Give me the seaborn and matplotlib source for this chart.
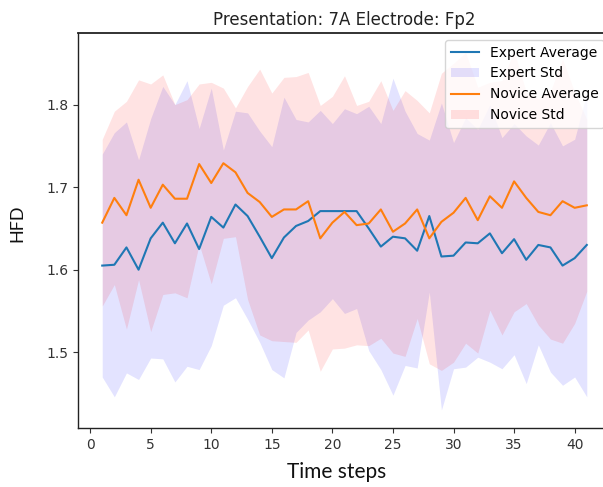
import matplotlib
matplotlib.use("Agg")
import matplotlib.pyplot as plt
import seaborn as sns
import numpy as np
import pandas as pd

time_steps = list(range(1, 42))

expert_avg = [1.605, 1.606, 1.627, 1.600, 1.638, 1.657, 1.632, 1.656, 1.625, 1.664,
              1.651, 1.679, 1.665, 1.640, 1.614, 1.639, 1.653, 1.659, 1.671, 1.671,
              1.671, 1.671, 1.650, 1.628, 1.640, 1.638, 1.623, 1.665, 1.616, 1.617,
              1.633, 1.632, 1.644, 1.620, 1.637, 1.612, 1.630, 1.627, 1.605, 1.614, 1.630]
expert_std = [0.135, 0.160, 0.152, 0.133, 0.145, 0.165, 0.168, 0.173, 0.146, 0.156,
              0.094, 0.113, 0.125, 0.128, 0.135, 0.170, 0.129, 0.120, 0.122, 0.106,
              0.124, 0.118, 0.148, 0.149, 0.192, 0.154, 0.142, 0.092, 0.186, 0.137,
              0.151, 0.138, 0.156, 0.140, 0.140, 0.150, 0.121, 0.151, 0.145, 0.144, 0.184]
novice_avg = [1.657, 1.687, 1.666, 1.709, 1.675, 1.703, 1.686, 1.686, 1.728, 1.705,
              1.729, 1.718, 1.693, 1.682, 1.664, 1.673, 1.673, 1.683, 1.638, 1.657,
              1.670, 1.654, 1.656, 1.673, 1.646, 1.656, 1.673, 1.638, 1.658, 1.669,
              1.687, 1.660, 1.689, 1.675, 1.707, 1.687, 1.670, 1.666, 1.683, 1.675, 1.678]
novice_std = [0.101, 0.105, 0.138, 0.121, 0.150, 0.133, 0.114, 0.120, 0.097, 0.122,
              0.091, 0.078, 0.129, 0.161, 0.150, 0.160, 0.161, 0.156, 0.161, 0.153,
              0.165, 0.145, 0.148, 0.156, 0.147, 0.161, 0.132, 0.152, 0.180, 0.181,
              0.176, 0.161, 0.138, 0.154, 0.158, 0.128, 0.137, 0.150, 0.172, 0.140, 0.104]

title = "Presentation: 7A Electrode: Fp2"
xlabel = "Time steps"
ylabel = "HFD"

df = pd.DataFrame({"t": time_steps, "ea": expert_avg, "es": expert_std,
                   "na": novice_avg, "ns": novice_std})

fig = plt.figure(figsize=(6.03, 4.87), dpi=100)
ax = fig.add_axes([78 / 603, 1 - 428 / 487, 533 / 603, 395 / 487])

sns.lineplot(data=df, x="t", y="ea", ax=ax, color="#1f77b4", label="Expert Average", linewidth=1.5)
ax.fill_between(df["t"], df["ea"] - df["es"], df["ea"] + df["es"], color="blue", alpha=0.11,
                linewidth=0, label="Expert Std")
sns.lineplot(data=df, x="t", y="na", ax=ax, color="#ff7f0e", label="Novice Average", linewidth=1.5)
ax.fill_between(df["t"], df["na"] - df["ns"], df["na"] + df["ns"], color="red", alpha=0.11,
                linewidth=0, label="Novice Std")

for side in ["left", "bottom", "top", "right"]:
    ax.spines[side].set_visible(True)
    ax.spines[side].set_color("#222222")
    ax.spines[side].set_linewidth(1.0)
ax.spines["top"].set_linewidth(1.3)
ax.spines["top"].set_zorder(5)

ax.set_xticks([0, 5, 10, 15, 20, 25, 30, 35, 40])
ax.set_yticks([1.5, 1.6, 1.7, 1.8])
ax.tick_params(labelsize=10, colors="#333333")
ax.set_title(title, fontsize=12, color="#222222")
ax.set_xlabel(xlabel, fontsize=15, family=["Lato", "DejaVu Sans"], color="#111111")
ax.set_ylabel(ylabel, fontsize=13, family=["Lato", "DejaVu Sans"], color="#111111")
ax.xaxis.set_label_coords(0.486, -0.085)
ax.yaxis.set_label_coords(-0.099, 0.519)
ax.legend(loc="upper right", fontsize=10)

fig.savefig("out.png", dpi=100)
